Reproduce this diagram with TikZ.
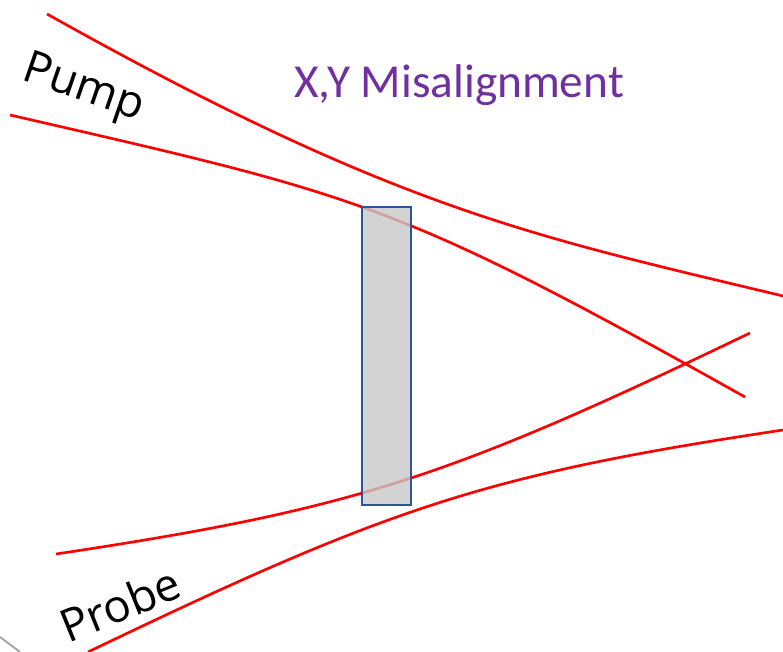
\documentclass[tikz,border=0pt]{standalone}
\usepackage{fontspec}
\usepackage{tikz}
\newfontfamily\titlefont{Carlito}
\newfontfamily\labelfont{Open Sans}
\definecolor{beamred}{RGB}{255, 0, 0}
\definecolor{titlepurple}{RGB}{112, 48, 160}
\definecolor{edgeblue}{RGB}{47, 85, 151}
\definecolor{samplegray}{RGB}{200, 200, 200}

\begin{document}
\begin{tikzpicture}[
    x=0.75pt, y=-0.75pt,
    beam/.style={draw=beamred, line width=2pt},
    samplebox/.style={rectangle, draw=edgeblue, line width=2pt,
                fill=samplegray, fill opacity=0.8, draw opacity=1,
                inner sep=0pt, minimum width=36.75pt, minimum height=223.5pt},
    beamlabel/.style={font=\labelfont\fontsize{34}{39}\selectfont, text=black},
]
    \useasboundingbox (0,0) rectangle (783,652);

    \draw[beam] (47,14) .. controls (397,210) and (533,236) .. (783,296);
    \draw[beam] (10,115) .. controls (360,195.5) and (395,201) .. (745,397);
    \draw[beam] (56,554) .. controls (356,509) and (450,477) .. (750,333);
    \draw[beam] (88,652) .. controls (388,508) and (483,475) .. (783,430);

    \node[samplebox] (sample) at (386.5,356) {};

    \node[font=\titlefont\fontsize{35.5}{41}\selectfont, text=titlepurple] (title) at (459,85) {X,Y Misalignment};
    \node[beamlabel, rotate=-19] (pump) at (83,90) {Pump};
    \node[beamlabel, rotate=22] (probe) at (120,604) {Probe};

    \coordinate (corner) at (0,637);
    \coordinate (cornerend) at (20,652);
    \draw[gray!70, line width=1.5pt] (corner) -- (cornerend);
\end{tikzpicture}
\end{document}
